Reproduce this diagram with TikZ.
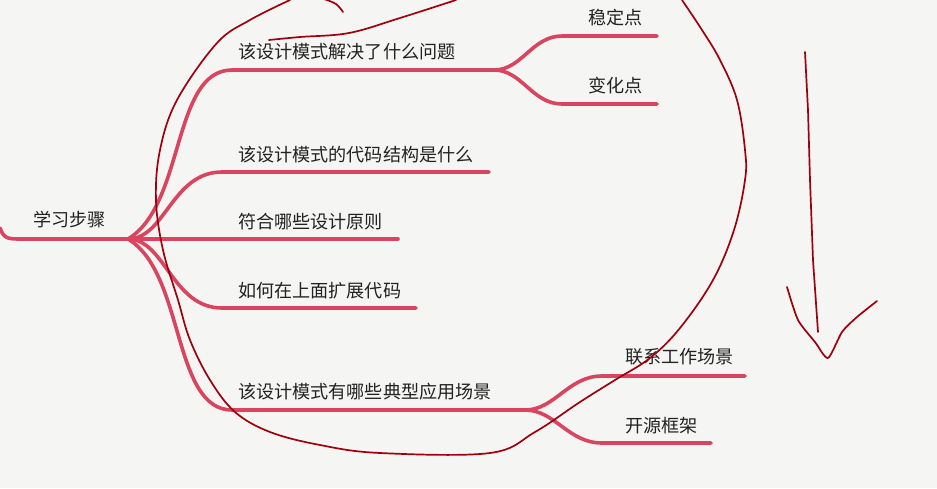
\documentclass[tikz,border=0pt]{standalone}
\usepackage{fontspec}
\newfontfamily\cjk{Noto Sans CJK SC}
\definecolor{bgc}{HTML}{F5F5F3}
\definecolor{mmred}{HTML}{D9455E}
\definecolor{penred}{HTML}{9E000E}
\definecolor{txt}{HTML}{222222}
\begin{document}
\begin{tikzpicture}[x=1pt,y=-1pt,
  mmline/.style={draw=mmred, line width=3.6pt, line cap=round},
  lbl/.style={font=\cjk\fontsize{18.1}{20}\selectfont, text=txt, anchor=west, inner sep=0pt},
  handpen/.style={draw=penred, line width=1.7pt, line cap=round, line join=round}]
\fill[bgc] (0,0) rectangle (937,488);
\useasboundingbox (0,0) rectangle (937,488);

% text nodes
\node[lbl] (root) at (33,220) {学习步骤};
\node[lbl] (b1) at (238,52) {该设计模式解决了什么问题};
\node[lbl] (b2) at (238,155) {该设计模式的代码结构是什么};
\node[lbl] (b3) at (238,222) {符合哪些设计原则};
\node[lbl] (b4) at (238,291) {如何在上面扩展代码};
\node[lbl] (b5) at (238,392) {该设计模式有哪些典型应用场景};
\node[lbl] (s1) at (588,18) {稳定点};
\node[lbl] (s2) at (588,86) {变化点};
\node[lbl] (s3) at (625,357) {联系工作场景};
\node[lbl] (s4) at (625,426) {开源框架};

% connector coordinates
\coordinate (in) at (0,228);
\coordinate (hub) at (128,239);
\coordinate (h1) at (494,70);
\coordinate (e1a) at (657,36);
\coordinate (e1b) at (657,104);
\coordinate (e2) at (489,172);
\coordinate (e3) at (398,239);
\coordinate (e4) at (416,308);
\coordinate (h5) at (525,410);
\coordinate (e5a) at (745,376);
\coordinate (e5b) at (711,443);

% mind map lines
\draw[mmline] (in) .. controls (4,239) and (8,239) .. (22,239) -- (hub);
\draw[mmline] (hub) .. controls (185,205) and (172,70) .. (232,70) -- (h1);
\draw[mmline] (h1) .. controls (522,70) and (532,36) .. (562,36) -- (e1a);
\draw[mmline] (h1) .. controls (522,70) and (532,104) .. (562,104) -- (e1b);
\draw[mmline] (hub) .. controls (165,239) and (172,172) .. (222,172) -- (e2);
\draw[mmline] (hub) -- (e3);
\draw[mmline] (hub) .. controls (165,239) and (172,308) .. (222,308) -- (e4);
\draw[mmline] (hub) .. controls (185,273) and (172,410) .. (232,410) -- (h5);
\draw[mmline] (h5) .. controls (555,410) and (568,376) .. (602,376) -- (e5a);
\draw[mmline] (h5) .. controls (555,410) and (568,443) .. (602,443) -- (e5b);

% hand-drawn loop
\draw[handpen] plot[smooth, tension=0.6] coordinates {
 (290,0) (250,20) (217,43) (177,100) (160,150) (156,200) (163,250) (178,300)
 (190,340) (210,380) (235,412) (270,432) (320,445) (380,453) (490,453)
 (535,432) (580,402) (615,380) (650,358) (680,328) (713,280) (734,230)
 (745,180) (745,150) (737,100) (720,60) (702,30) (682,0)};
\draw[handpen] plot[smooth, tension=0.6] coordinates {
 (269,40) (300,37) (349,33) (400,18) (456,0)};
\draw[handpen] plot[smooth, tension=0.6] coordinates {
 (324,-1) (336,4) (343,12)};

% hand-drawn arrow
\draw[handpen] (805,52) -- (808,110) -- (810,180) -- (813,260) -- (818,332);
\draw[handpen] plot[smooth, tension=0.4] coordinates {
 (787,287) (798,320) (815,342) (828,358) (842,332) (857,317) (877,301)};
\end{tikzpicture}
\end{document}
